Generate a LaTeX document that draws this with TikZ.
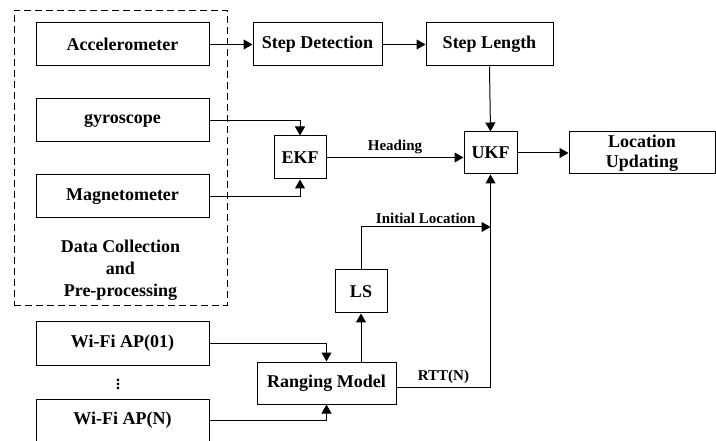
\documentclass[tikz,border=0pt]{standalone}
\usepackage{fontspec}
\setmainfont{Liberation Serif}
\usetikzlibrary{arrows.meta, positioning, calc}

\begin{document}
\begin{tikzpicture}[x=1pt, y=-1pt, line width=1pt,
        block/.style={draw, minimum height=43pt, inner sep=0pt, align=center,
            font=\fontsize{18}{21}\selectfont\bfseries},
        lbl/.style={font=\fontsize{15}{17}\selectfont\bfseries, inner sep=3pt},
        arr/.style={-{Triangle[length=9pt,width=10pt]}}]
        \useasboundingbox (0,0) rectangle (716,441);
        % data collection and pre-processing
        \node[draw, dash pattern=on 7pt off 4pt, line width=0.8pt, minimum width=213pt, minimum height=295pt] (dcp) at (120.5,157.5) {};
        \node[block, minimum width=173pt] (acc) at (122.5,44.5) {Accelerometer};
        \node[block, minimum width=173pt] (gyro) at (122.5,120.5) {gyroscope};
        \node[block, minimum width=173pt] (mag) at (122.5,196.5) {Magnetometer};
        \node[align=center, font=\fontsize{18}{22}\selectfont\bfseries] (dctext) at (120.5,270) {Data Collection\\and\\Pre-processing};
        % wi-fi access points
        \node[block, minimum width=173pt] (wifi1) at (122.5,343.5) {Wi-Fi AP(01)};
        \node[font=\fontsize{16}{18}\selectfont\bfseries] (dots) at (118,381) {$\vdots$};
        \node[block, minimum width=173pt] (wifiN) at (122.5,420.5) {Wi-Fi AP(N)};
        % processing blocks
        \node[block, minimum width=129pt] (stepdet) at (317.5,44.5) {Step Detection};
        \node[block, minimum width=127pt] (steplen) at (489.5,44.5) {Step Length};
        \node[block, minimum width=52pt] (ekf) at (300,157.5) {EKF};
        \node[block, minimum width=53pt, minimum height=42pt] (ukf) at (490.5,153) {UKF};
        \node[block, minimum width=146pt, minimum height=42pt, font=\fontsize{18}{20}\selectfont\bfseries] (loc) at (642,153) {Location\\Updating};
        \node[block, minimum width=52pt] (ls) at (361,291.5) {LS};
        \node[block, minimum width=139pt, minimum height=42pt] (rng) at (326.5,383) {Ranging Model};
        \coordinate (join) at (ukf.south |- 0,227);
        % connections
        \draw[arr] (acc.east) -- (stepdet.west);
        \draw[arr] (stepdet.east) -- (steplen.west);
        \draw[arr] (steplen.south) -- (ukf.north);
        \draw[arr] (gyro.east) -| (ekf.north);
        \draw[arr] (mag.east) -| (ekf.south);
        \draw[arr] (ekf.east) -- (ekf.east -| ukf.west) node[lbl, midway, above] {Heading};
        \draw[arr] (ukf.east) -- (loc.west);
        \draw[arr] (wifi1.east) -| (rng.north);
        \draw[arr] (wifiN.east) -| (rng.south);
        \draw[arr] (ls.south |- rng.north) -- (ls.south);
        \draw[arr] (ls.north) |- (join) node[lbl, pos=0.75, above] {Initial Location};
        \draw[arr] ([yshift=-4pt]rng.east) -| (ukf.south) node[lbl, pos=0.25, above] {RTT(N)};
    \end{tikzpicture}
\end{document}
